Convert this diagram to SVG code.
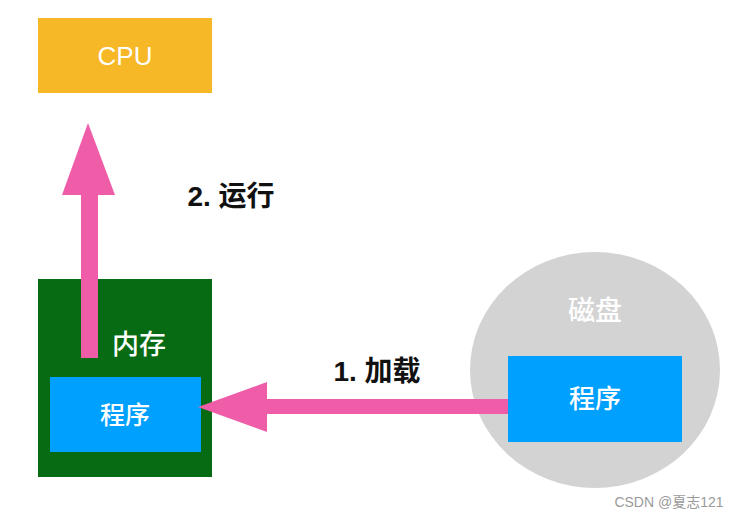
<svg xmlns="http://www.w3.org/2000/svg" width="740" height="513" viewBox="0 0 740 513">
<style>
.t{font-family:"Liberation Sans","Noto Sans CJK SC",sans-serif;text-anchor:middle}
.w{fill:#ffffff;font-weight:500}
.lbl{font-weight:bold;fill:#111111;font-size:28px}
.arrow{fill:#EF5DA8}
.prog{fill:#00A0FF}
</style>
<rect width="740" height="513" fill="#ffffff"/>
<g id="cpu">
<rect x="38" y="18" width="174" height="75" fill="#F6B826"/>
<text class="t w" x="125" y="65" font-size="26">CPU</text>
</g>
<g id="memory">
<rect x="38" y="279" width="174" height="198" fill="#066B13"/>
<text class="t w" x="139" y="354" font-size="27">内存</text>
</g>
<g id="memory-program">
<rect x="50" y="377" width="151" height="75" class="prog"/>
<text class="t w" x="125" y="424" font-size="25">程序</text>
</g>
<g id="disk">
<ellipse cx="595" cy="370" rx="125" ry="118" fill="#D3D3D3"/>
<text class="t w" x="595" y="320" font-size="27">磁盘</text>
</g>
<g id="connectors">
<polygon class="arrow" points="81,358 98,358 98,195 115,195 88,123 62,195 81,195"/>
<polygon class="arrow" points="509,399 509,414 267,414 267,432 198,407 267,382 267,399"/>
<text class="t lbl" x="231" y="206">2. 运行</text>
<text class="t lbl" x="377" y="381">1. 加载</text>
</g>
<g id="disk-program">
<rect x="508" y="356" width="174" height="86" class="prog"/>
<text class="t w" x="595" y="408" font-size="26">程序</text>
</g>
<text class="t" x="669" y="507" font-size="14" fill="#9a9a9a">CSDN @夏志121</text>
</svg>
